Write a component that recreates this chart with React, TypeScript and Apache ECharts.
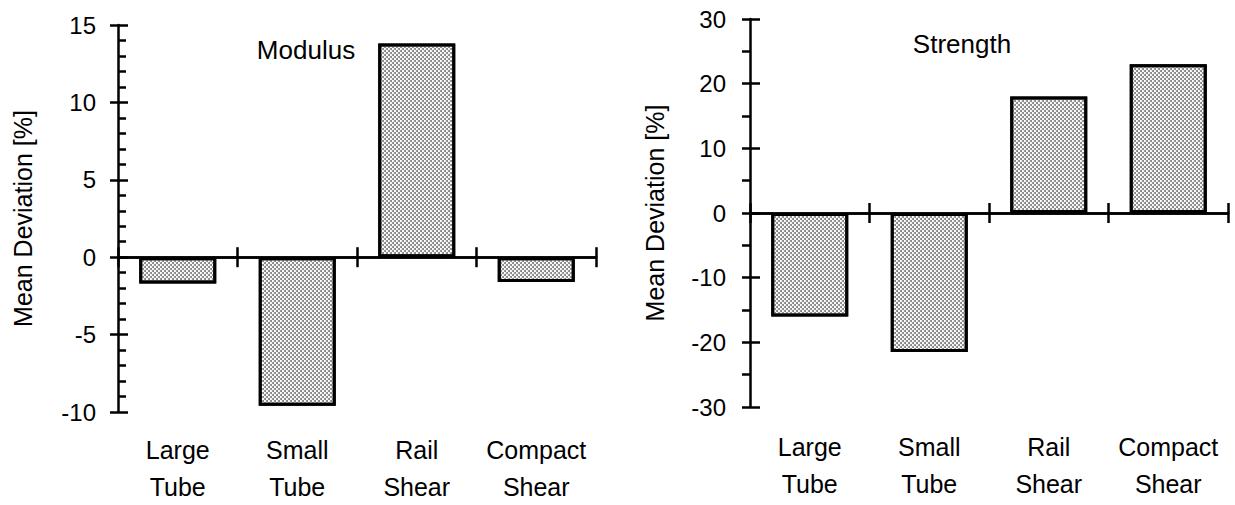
import React, { useEffect, useRef } from "react";
import * as echarts from "echarts";

const categories = ["Large\nTube", "Small\nTube", "Rail\nShear", "Compact\nShear"];
const modulusValues = [-1.7, -9.6, 13.8, -1.6];
const strengthValues = [-16, -21.5, 18, 23];
const modulusAxis = { min: -10, max: 15, interval: 5, minorSplit: 5 };
const strengthAxis = { min: -30, max: 30, interval: 10, minorSplit: 2 };
const titles = ["Modulus", "Strength"];
const yName = "Mean Deviation [%]";

const FONT = "Liberation Sans, Arial, Helvetica, sans-serif";
const BLACK = "#000000";

export default function App() {
  const ref = useRef<HTMLDivElement>(null);

  useEffect(() => {
    if (!ref.current) return;
    const chart = echarts.init(ref.current, undefined, { renderer: "svg" });

    const grids = [
      { left: 118, top: 25, width: 478, height: 388 },
      { left: 750, top: 19, width: 478, height: 388 },
    ];
    const axes = [modulusAxis, strengthAxis];
    const minorInside = [true, false];

    const xAxis: any[] = [];
    const yAxis: any[] = [];
    grids.forEach((_, g) => {
      xAxis.push({
        type: "category",
        gridIndex: g,
        data: categories,
        position: "bottom",
        axisLine: { onZero: true, lineStyle: { color: BLACK, width: 2.5 } },
        axisTick: { show: true, inside: false, interval: 0, length: 10, lineStyle: { color: BLACK, width: 2.5 } },
        axisLabel: { show: false },
        splitLine: { show: false },
      });
      xAxis.push({
        type: "category",
        gridIndex: g,
        data: categories,
        position: "top",
        axisLine: { onZero: true, lineStyle: { color: BLACK, width: 2.5 } },
        axisTick: { show: true, inside: false, interval: 0, length: 10, lineStyle: { color: BLACK, width: 2.5 } },
        axisLabel: { show: false },
        splitLine: { show: false },
      });
      xAxis.push({
        type: "category",
        gridIndex: g,
        data: categories,
        position: "bottom",
        axisLine: { show: false, onZero: false },
        axisTick: { show: false },
        axisLabel: {
          show: true,
          interval: 0,
          margin: g === 0 ? 19 : 21,
          color: BLACK,
          fontFamily: FONT,
          fontSize: 25,
          lineHeight: 37,
        },
        splitLine: { show: false },
      });

      const a = axes[g];
      yAxis.push({
        type: "value",
        gridIndex: g,
        position: "left",
        min: a.min,
        max: a.max,
        interval: a.interval,
        name: yName,
        nameLocation: "middle",
        nameGap: 83,
        nameTextStyle: { color: BLACK, fontFamily: FONT, fontSize: 25 },
        axisLine: { show: true, onZero: false, lineStyle: { color: BLACK, width: 2.5 } },
        axisTick: {
          show: true,
          inside: minorInside[g],
          length: g === 0 ? 10 : 8,
          lineStyle: { color: BLACK, width: 2.5 },
        },
        minorTick: {
          show: true,
          splitNumber: a.minorSplit,
          length: 8,
          lineStyle: { color: BLACK, width: 2.5 },
        },
        axisLabel: {
          color: BLACK,
          fontFamily: FONT,
          fontSize: 24,
          margin: g === 0 ? 22 : 24,
        },
        splitLine: { show: false },
        minorSplitLine: { show: false },
      });
      yAxis.push({
        type: "value",
        gridIndex: g,
        position: "left",
        min: a.min,
        max: a.max,
        interval: a.interval,
        axisLine: { show: false, onZero: false },
        axisTick: {
          show: true,
          inside: !minorInside[g],
          length: g === 0 ? 8 : 10,
          lineStyle: { color: BLACK, width: 2.5 },
        },
        axisLabel: { show: false },
        splitLine: { show: false },
      });
    });

    const barStyle = {
      color: "#ffffff",
      borderColor: BLACK,
      borderWidth: 3,
      decal: {
        symbol: "circle",
        symbolSize: 1,
        color: "#7a7a7a",
        dashArrayX: [
          [2, 2],
          [0, 2, 2, 0],
        ],
        dashArrayY: [2, 0],
      },
    };

    chart.setOption({
      animation: false,
      backgroundColor: "#ffffff",
      grid: grids.map((gr) => ({ ...gr, containLabel: false })),
      xAxis,
      yAxis,
      graphic: [
        {
          type: "text",
          x: 306,
          y: 50,
          style: {
            text: titles[0],
            fill: BLACK,
            font: `26px ${FONT}`,
            align: "center",
            verticalAlign: "middle",
          },
        },
        {
          type: "text",
          x: 962,
          y: 44,
          style: {
            text: titles[1],
            fill: BLACK,
            font: `26px ${FONT}`,
            align: "center",
            verticalAlign: "middle",
          },
        },
      ],
      series: [
        {
          type: "bar",
          name: titles[0],
          xAxisIndex: 0,
          yAxisIndex: 0,
          data: modulusValues,
          barWidth: 77,
          itemStyle: barStyle,
        },
        {
          type: "bar",
          name: titles[1],
          xAxisIndex: 3,
          yAxisIndex: 2,
          data: strengthValues,
          barWidth: 77,
          itemStyle: barStyle,
        },
      ],
    });

    return () => chart.dispose();
  }, []);

  return (
    <div
      ref={ref}
      style={{ position: "absolute", left: 0, top: 0, width: 1235, height: 505, background: "#fff" }}
    />
  );
}
